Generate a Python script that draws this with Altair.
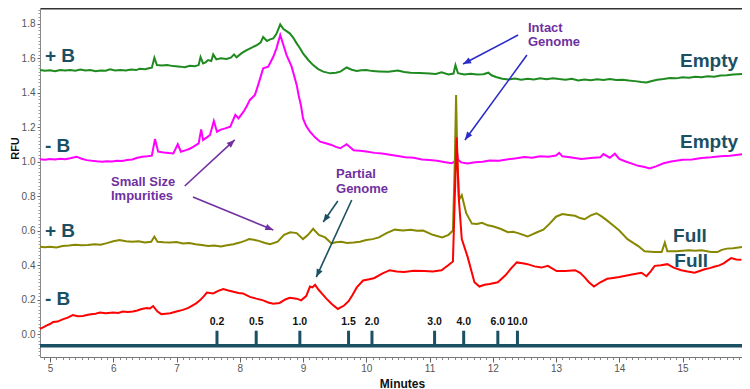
import math
import pandas as pd
import altair as alt

# ---------------- data ----------------
series_names = ["+B Empty", "-B Empty", "+B Full", "-B Full"]
series_colors = ["#1f8a1f", "#ff00ff", "#878700", "#ff0000"]

green = [(4.84,1.530),(4.92,1.526),(5.0,1.529),(5.08,1.524),(5.16,1.531),(5.24,1.527),(5.32,1.530),
         (5.4,1.526),(5.48,1.533),(5.56,1.527),(5.64,1.530),(5.72,1.524),(5.8,1.528),(5.88,1.526),
         (5.95,1.534),(6.03,1.528),(6.11,1.531),(6.2,1.527),(6.28,1.533),(6.36,1.530),(6.42,1.538),
         (6.5,1.535),(6.58,1.542),(6.61,1.544),(6.65,1.602),(6.69,1.559),(6.77,1.556),
         (6.85,1.559),(6.95,1.553),(7.06,1.550),(7.13,1.546),(7.21,1.555),(7.29,1.552),(7.35,1.559),
         (7.38,1.606),(7.42,1.569),(7.46,1.575),(7.50,1.588),(7.55,1.583),
         (7.58,1.621),(7.63,1.592),(7.7,1.598),(7.79,1.594),(7.86,1.602),(7.91,1.621),(7.95,1.604),
         (8.03,1.628),(8.11,1.646),(8.19,1.660),(8.27,1.675),(8.33,1.690),
         (8.37,1.722),(8.43,1.699),(8.48,1.708),(8.53,1.714),(8.58,1.740),(8.64,1.795),(8.69,1.768),
         (8.74,1.756),(8.79,1.743),(8.85,1.715),(8.90,1.685),(8.95,1.658),
         (9.0,1.627),(9.08,1.590),(9.16,1.559),(9.24,1.536),(9.32,1.521),(9.43,1.511),(9.52,1.515),
         (9.59,1.521),(9.69,1.545),(9.77,1.532),(9.85,1.525),(9.92,1.529),
         (10.0,1.530),(10.1,1.524),(10.2,1.522),(10.35,1.520),(10.5,1.527),(10.6,1.519),(10.7,1.515),
         (10.85,1.513),(11.0,1.510),(11.1,1.508),(11.19,1.517),(11.3,1.505),
         (11.38,1.510),(11.41,1.559),(11.45,1.512),(11.55,1.505),(11.65,1.509),(11.75,1.504),
         (11.85,1.506),(11.93,1.515),(11.98,1.500),
         (12.05,1.490),(12.15,1.480),(12.25,1.476),(12.35,1.481),(12.45,1.474),(12.55,1.479),
         (12.65,1.475),(12.75,1.482),(12.85,1.477),(12.95,1.483),(13.05,1.478),(13.15,1.474),
         (13.25,1.479),(13.35,1.470),(13.45,1.475),(13.55,1.471),(13.65,1.477),(13.75,1.473),
         (13.85,1.478),(13.95,1.472),(14.05,1.474),(14.15,1.469),(14.25,1.466),(14.35,1.461),
         (14.43,1.458),(14.5,1.465),(14.6,1.474),(14.7,1.478),(14.8,1.484),(14.9,1.482),
         (15.0,1.488),(15.1,1.486),(15.2,1.491),(15.3,1.489),(15.4,1.494),(15.5,1.492),
         (15.6,1.498),(15.7,1.500),(15.8,1.504),(15.95,1.507)]

magenta = [(4.84,1.013),(4.92,1.010),(5.0,1.014),(5.08,1.011),(5.16,1.016),(5.24,1.013),(5.32,1.019),
           (5.42,1.028),(5.5,1.016),(5.58,1.008),(5.66,1.004),(5.74,1.001),(5.82,0.999),(5.9,1.002),
           (5.98,1.000),(6.06,1.004),(6.14,1.003),(6.22,1.009),(6.3,1.012),(6.38,1.022),(6.46,1.027),
           (6.54,1.030),(6.61,1.034),(6.66,1.130),(6.71,1.057),(6.8,1.052),(6.88,1.049),(6.95,1.047),
           (7.02,1.100),(7.07,1.057),(7.15,1.066),(7.21,1.074),(7.27,1.086),(7.35,1.105),(7.39,1.186),
           (7.42,1.125),(7.48,1.140),(7.53,1.154),(7.59,1.235),(7.64,1.173),(7.7,1.185),(7.77,1.192),
           (7.85,1.202),(7.93,1.270),(7.98,1.250),(8.06,1.289),(8.11,1.320),(8.16,1.357),
           (8.24,1.386),(8.29,1.443),(8.37,1.540),(8.45,1.550),(8.53,1.607),(8.58,1.656),(8.64,1.733),
           (8.69,1.675),(8.74,1.617),(8.82,1.550),(8.90,1.443),(8.93,1.386),(8.97,1.320),(9.0,1.250),
           (9.05,1.205),(9.11,1.173),(9.19,1.140),(9.27,1.115),(9.36,1.106),(9.45,1.096),(9.52,1.085),
           (9.59,1.077),(9.69,1.100),(9.8,1.065),(9.9,1.062),(10.0,1.058),(10.13,1.050),(10.25,1.046),
           (10.4,1.038),(10.5,1.032),(10.62,1.025),(10.75,1.022),(10.88,1.012),(11.0,1.009),
           (11.12,1.004),(11.25,0.996),(11.35,0.990),(11.40,1.000),(11.42,1.095),(11.45,1.010),
           (11.5,0.995),(11.6,0.988),(11.72,0.995),(11.84,0.998),(11.95,1.006),(12.1,1.004),
           (12.22,1.012),(12.35,1.018),(12.5,1.026),(12.62,1.022),(12.75,1.030),(12.88,1.028),
           (13.0,1.035),(13.05,1.050),(13.1,1.030),(13.22,1.025),(13.4,1.015),(13.55,1.020),
           (13.7,1.025),(13.75,1.043),(13.85,1.022),(13.93,1.045),(14.0,1.015),(14.1,1.000),
           (14.2,0.988),(14.3,0.975),(14.4,0.968),(14.48,0.960),(14.58,0.972),(14.7,0.990),
           (14.82,1.000),(15.0,1.010),(15.15,1.012),(15.3,1.020),(15.45,1.024),(15.6,1.030),
           (15.75,1.034),(15.95,1.043)]

olive = [(4.84,0.506),(4.92,0.503),(5.0,0.506),(5.1,0.502),(5.2,0.510),(5.3,0.513),(5.4,0.518),
         (5.5,0.514),(5.6,0.516),(5.7,0.520),(5.8,0.518),(5.9,0.527),(6.0,0.538),(6.1,0.545),
         (6.2,0.538),(6.3,0.535),(6.4,0.538),(6.5,0.530),(6.6,0.535),(6.65,0.565),(6.7,0.535),
         (6.8,0.532),(6.9,0.530),(7.0,0.533),(7.1,0.525),(7.2,0.527),(7.3,0.520),(7.4,0.516),
         (7.5,0.510),(7.6,0.513),(7.7,0.508),(7.8,0.515),(7.9,0.520),(8.0,0.530),(8.08,0.540),
         (8.15,0.550),(8.22,0.546),
         (8.3,0.540),(8.4,0.528),(8.48,0.520),(8.6,0.535),(8.7,0.575),(8.8,0.590),(8.9,0.585),(9.0,0.550),
         (9.08,0.575),(9.16,0.610),(9.25,0.575),(9.35,0.560),(9.45,0.525),(9.52,0.532),(9.6,0.535),
         (9.7,0.528),(9.8,0.530),(9.9,0.535),
         (10.0,0.545),(10.1,0.550),(10.2,0.560),(10.32,0.585),(10.45,0.605),(10.58,0.600),
         (10.7,0.605),(10.8,0.598),(10.9,0.600),(11.05,0.575),(11.2,0.560),
         (11.3,0.575),(11.37,0.600),(11.40,1.000),(11.42,1.385),(11.44,1.000),(11.47,0.780),
         (11.51,0.805),(11.58,0.700),(11.67,0.640),(11.75,0.638),(11.83,0.645),(11.92,0.630),
         (12.0,0.625),(12.12,0.610),(12.24,0.590),(12.32,0.593),
         (12.4,0.585),(12.55,0.565),(12.7,0.590),(12.8,0.605),(12.9,0.640),(13.0,0.680),(13.1,0.695),
         (13.2,0.690),(13.3,0.685),(13.38,0.672),
         (13.45,0.665),(13.55,0.688),(13.64,0.700),(13.72,0.682),(13.8,0.660),(13.9,0.630),(14.0,0.600),
         (14.13,0.550),(14.22,0.528),(14.3,0.510),(14.4,0.480),
         (14.55,0.475),(14.67,0.475),(14.72,0.530),(14.76,0.480),(14.9,0.480),(15.0,0.483),(15.1,0.485),
         (15.2,0.482),(15.3,0.485),(15.45,0.475),(15.55,0.475),(15.62,0.488),(15.7,0.495),
         (15.8,0.497),(15.95,0.505)]

red = [(4.84,0.030),(4.9,0.040),(4.95,0.050),(5.0,0.058),(5.05,0.070),(5.12,0.072),(5.2,0.085),
       (5.28,0.095),(5.36,0.110),(5.44,0.103),(5.52,0.105),(5.6,0.112),(5.65,0.115),(5.72,0.118),
       (5.79,0.125),(5.88,0.120),(6.0,0.125),(6.08,0.122),(6.15,0.130),(6.23,0.127),(6.31,0.130),
       (6.38,0.136),(6.45,0.145),(6.53,0.150),(6.58,0.148),(6.63,0.162),
       (6.7,0.130),(6.76,0.115),(6.83,0.118),(6.9,0.120),(7.0,0.130),(7.1,0.140),(7.18,0.150),
       (7.25,0.165),(7.31,0.178),(7.37,0.195),(7.43,0.218),(7.48,0.240),
       (7.58,0.235),(7.66,0.250),(7.74,0.260),(7.82,0.252),(7.9,0.245),(7.98,0.238),(8.05,0.235),
       (8.16,0.215),(8.26,0.205),(8.37,0.195),(8.45,0.183),(8.53,0.175),
       (8.63,0.180),(8.72,0.200),(8.79,0.210),(8.9,0.205),(8.97,0.195),(9.05,0.220),(9.11,0.275),
       (9.15,0.270),(9.19,0.285),(9.25,0.255),(9.31,0.230),(9.37,0.205),(9.45,0.175),(9.55,0.145),
       (9.65,0.165),(9.72,0.190),(9.78,0.225),(9.85,0.270),(9.95,0.310),(10.05,0.318),
       (10.13,0.325),(10.25,0.350),(10.37,0.370),(10.48,0.362),(10.6,0.360),(10.75,0.367),
       (10.92,0.365),(11.05,0.362),(11.19,0.370),(11.3,0.400),(11.37,0.420),(11.40,0.800),
       (11.43,1.140),(11.46,0.800),(11.51,0.550),(11.6,0.450),(11.71,0.300),(11.79,0.275),
       (11.87,0.285),(11.95,0.290),(12.08,0.300),(12.2,0.340),(12.3,0.385),(12.38,0.415),
       (12.47,0.410),(12.55,0.405),(12.66,0.392),(12.77,0.385),(12.87,0.395),(13.01,0.365),
       (13.15,0.365),(13.3,0.370),(13.38,0.355),(13.45,0.330),(13.52,0.300),(13.6,0.275),
       (13.7,0.300),(13.81,0.320),(13.9,0.325),(14.0,0.330),(14.1,0.338),(14.2,0.345),
       (14.35,0.355),(14.43,0.335),(14.5,0.365),(14.56,0.395),(14.66,0.398),(14.76,0.405),
       (14.86,0.385),(14.98,0.370),(15.08,0.362),(15.19,0.355),(15.27,0.365),(15.35,0.375),
       (15.43,0.382),(15.5,0.390),(15.58,0.398),(15.65,0.410),(15.71,0.425),(15.77,0.440),
       (15.85,0.432),(15.93,0.430)]

# size-marker ladder
marker_labels = ["0.2", "0.5", "1.0", "1.5", "2.0", "3.0", "4.0", "6.0", "10.0"]
marker_minutes = [7.64, 8.26, 8.95, 9.72, 10.09, 11.08, 11.54, 12.08, 12.39]

# trace labels
trace_labels = ["+ B", "- B", "+ B", "- B", "Empty", "Empty", "Full", "Full"]
trace_label_x = [4.92, 4.92, 4.92, 4.92, 14.96, 14.96, 14.85, 14.87]
trace_label_y = [1.579, 1.057, 0.564, 0.168, 1.550, 1.078, 0.535, 0.387]

# callouts
note_text = ["Small Size", "Impurities", "Partial", "Genome", "Intact", "Genome"]
note_x = [5.964, 5.964, 9.522, 9.522, 12.557, 12.557]
note_y = [0.884, 0.801, 0.925, 0.840, 1.776, 1.692]

arrow_x1 = [12.40, 12.54, 7.13, 7.26, 9.55, 9.77]
arrow_y1 = [1.733, 1.617, 0.858, 0.794, 0.771, 0.777]
arrow_x2 = [11.53, 11.56, 7.92, 8.53, 9.32, 9.21]
arrow_y2 = [1.565, 1.125, 1.125, 0.603, 0.649, 0.330]
arrow_col = ["#2b2bc8", "#2b2bc8", "#7030a0", "#7030a0", "#1b4f63", "#1b4f63"]

# ---------------- layout ----------------
X_DOM = [4.842, 15.94]
Y_DOM = [-0.1333, 1.8899]
W, H = 702, 349
PX_X = W / (X_DOM[1] - X_DOM[0])
PX_Y = H / (Y_DOM[1] - Y_DOM[0])
TEAL = "#1b4f63"
PURPLE = "#7030a0"
FONT = "Liberation Sans"

rows = []
for name, pts in zip(series_names, [green, magenta, olive, red]):
    for m, v in pts:
        rows.append({"minute": m, "rfu": v, "series": name})
df = pd.DataFrame(rows)

xs = alt.Scale(domain=X_DOM, nice=False, zero=False)
ys = alt.Scale(domain=Y_DOM, nice=False, zero=False)

lines = alt.Chart(df).mark_line(strokeWidth=2).encode(
    x=alt.X("minute:Q", scale=xs, axis=alt.Axis(
        orient="bottom", values=list(range(5, 16)), format="d", title="Minutes",
        tickSize=5, tickColor="#666", domainColor="#777", labelColor="#555",
        labelFontSize=10, labelPadding=1, titleFontSize=12, titleFontWeight="bold",
        titleColor="#111", titleX=362, titleY=30, titleBaseline="alphabetic", grid=False)),
    y=alt.Y("rfu:Q", scale=ys, axis=alt.Axis(
        orient="left", values=[0.0, 0.2, 0.4, 0.6, 0.8, 1.0, 1.2, 1.4, 1.6, 1.8],
        format=".1f", title="RFU", tickSize=3, labelPadding=2, titleFontSize=11,
        titleFontWeight="bold", titleColor="#111", titlePadding=1, titleY=140,
        labelColor="#555", labelFontSize=10, domainColor="#888", tickColor="#666", grid=False)),
    color=alt.Color("series:N", scale=alt.Scale(domain=series_names, range=series_colors), legend=None),
    detail="series:N",
)

minor_x = [round(4.9 + 0.1 * i, 2) for i in range(111)]
minor_y = [round(-0.12 + 0.02 * i, 3) for i in range(101)]

minor_axes = alt.Chart(df).mark_line(opacity=0).encode(
    x=alt.X("minute:Q", scale=xs, axis=alt.Axis(
        orient="bottom", values=minor_x, labels=False, domain=False, tickSize=2.5,
        tickColor="#888", title=None, grid=False)),
    y=alt.Y("rfu:Q", scale=ys, axis=alt.Axis(
        orient="left", values=minor_y, labels=False, domain=False, tickSize=2,
        tickColor="#999", title=None, grid=False)),
    detail="series:N",
)

frame_axes = alt.Chart(df).mark_line(opacity=0).encode(
    x=alt.X("minute:Q", scale=xs, axis=alt.Axis(
        orient="top", labels=False, ticks=False, domainWidth=2, domainColor="#333",
        title=None, grid=False)),
    y=alt.Y("rfu:Q", scale=ys, axis=alt.Axis(
        orient="right", values=minor_y, labels=False, tickSize=2, tickColor="#999",
        domainColor="#aaa", title=None, grid=False)),
    detail="series:N",
)

mk = pd.DataFrame({"label": marker_labels, "minute": marker_minutes})
band = alt.Chart(pd.DataFrame({"y": [-0.068]})).mark_rule(strokeWidth=3.5, color=TEAL).encode(
    x=alt.value(0), x2=alt.value("width"), y=alt.Y("y:Q", scale=ys, axis=None))
marker_ticks = alt.Chart(mk).transform_calculate(y0="-0.068", y1="0.019").mark_rule(
    strokeWidth=3, color=TEAL).encode(
    x=alt.X("minute:Q", scale=xs, axis=None),
    y=alt.Y("y0:Q", scale=ys, axis=None), y2="y1:Q")
marker_text = alt.Chart(mk).transform_calculate(y="0.052").mark_text(
    fontSize=10.5, fontWeight="bold", color="#111", align="center", baseline="alphabetic",
    font=FONT).encode(
    x=alt.X("minute:Q", scale=xs, axis=None), y=alt.Y("y:Q", scale=ys, axis=None), text="label:N")

tl = pd.DataFrame({"t": trace_labels, "x": trace_label_x, "y": trace_label_y})
trace_text = alt.Chart(tl).mark_text(
    fontSize=19, fontWeight="bold", color=TEAL, align="left", baseline="alphabetic",
    font=FONT).encode(
    x=alt.X("x:Q", scale=xs, axis=None), y=alt.Y("y:Q", scale=ys, axis=None), text="t:N")

nt = pd.DataFrame({"t": note_text, "x": note_x, "y": note_y})
note_layer = alt.Chart(nt).mark_text(
    fontSize=13, fontWeight="bold", color=PURPLE, align="left", baseline="middle",
    font=FONT).encode(
    x=alt.X("x:Q", scale=xs, axis=None), y=alt.Y("y:Q", scale=ys, axis=None), text="t:N")

angles = []
for x1, y1, x2, y2 in zip(arrow_x1, arrow_y1, arrow_x2, arrow_y2):
    dx = (x2 - x1) * PX_X
    up = (y2 - y1) * PX_Y
    angles.append(math.degrees(math.atan2(dx, up)) % 360)
ar = pd.DataFrame({"x": arrow_x1, "y": arrow_y1, "x2": arrow_x2, "y2": arrow_y2,
                   "c": arrow_col, "a": angles})
arrow_lines = alt.Chart(ar).mark_rule(strokeWidth=1.6).encode(
    x=alt.X("x:Q", scale=xs, axis=None), y=alt.Y("y:Q", scale=ys, axis=None),
    x2="x2:Q", y2="y2:Q", color=alt.Color("c:N", scale=None))
arrow_heads = alt.Chart(ar).mark_point(
    shape="M0,0L0.4,1L-0.4,1Z", filled=True, size=256, opacity=1, strokeWidth=0).encode(
    x=alt.X("x2:Q", scale=xs, axis=None), y=alt.Y("y2:Q", scale=ys, axis=None),
    angle=alt.Angle("a:Q", scale=None), color=alt.Color("c:N", scale=None))

chart = alt.layer(
    minor_axes, frame_axes, band, marker_ticks, marker_text, lines,
    arrow_lines, arrow_heads, trace_text, note_layer,
).resolve_axis(x="independent", y="independent").properties(
    width=W, height=H, autosize="none",
    padding={"left": 32, "top": 0, "right": 0, "bottom": 32},
).configure_view(stroke=None).configure(font=FONT)

chart.save("out.html", embed_options={"renderer": "svg", "actions": False})
